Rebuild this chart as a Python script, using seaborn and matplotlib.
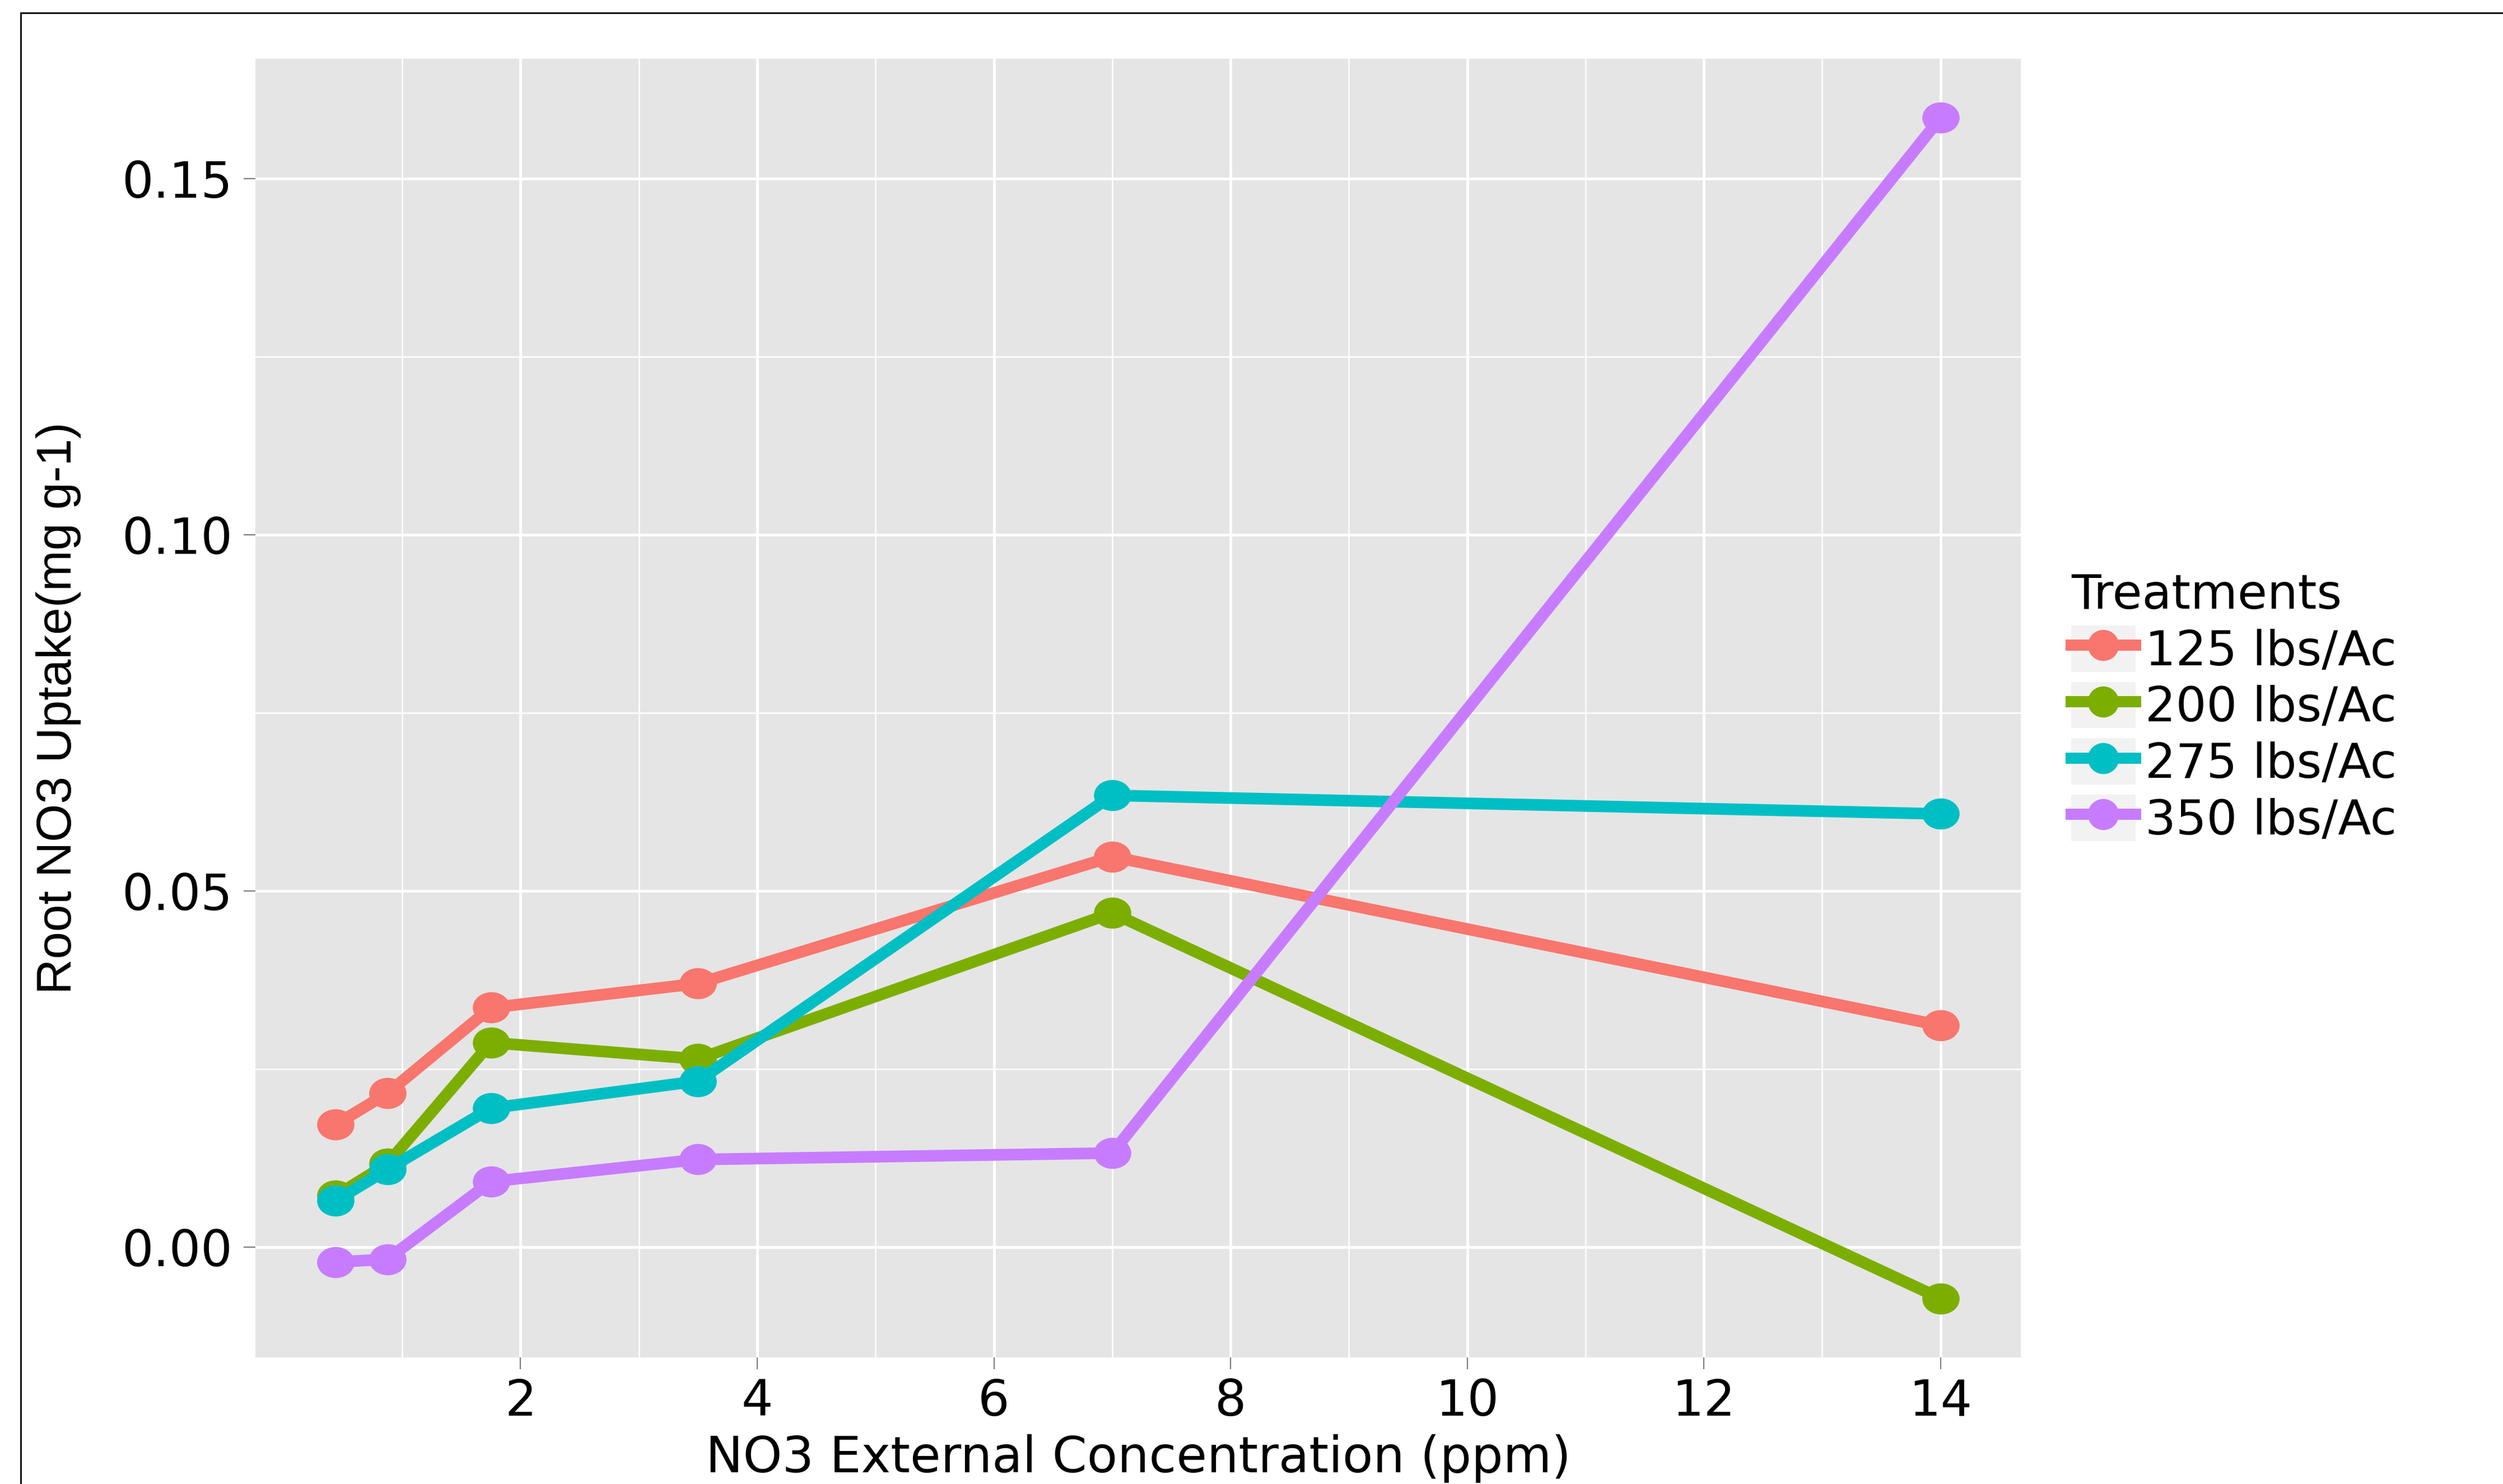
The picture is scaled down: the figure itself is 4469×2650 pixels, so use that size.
import numpy as np
import pandas as pd
import matplotlib
matplotlib.use("Agg")
import matplotlib.pyplot as plt
import seaborn as sns
from matplotlib.patches import Rectangle
from matplotlib.lines import Line2D
from matplotlib.path import Path
from matplotlib.transforms import Affine2D
from matplotlib.legend_handler import HandlerLine2D

# NO3 external concentration (ppm)
conc = [0.4375, 0.875, 1.75, 3.5, 7, 14]
treatments = ["125 lbs/Ac", "200 lbs/Ac", "275 lbs/Ac", "350 lbs/Ac"]
uptake_125 = [0.0172, 0.0216, 0.0336, 0.0370, 0.0548, 0.0311]
uptake_200 = [0.0072, 0.0117, 0.0287, 0.0264, 0.0469, -0.0072]
uptake_275 = [0.0065, 0.0109, 0.0195, 0.0233, 0.0634, 0.0608]
uptake_350 = [-0.0021, -0.0017, 0.0092, 0.0123, 0.0132, 0.1585]
colors = ["#F8766D", "#7CAE00", "#00BFC4", "#C77CFF"]

xticks = [2, 4, 6, 8, 10, 12, 14]
xminor = [1, 3, 5, 7, 9, 11, 13]
yticks = [0.00, 0.05, 0.10, 0.15]
ytick_labels = ["0.00", "0.05", "0.10", "0.15"]
yminor = [0.025, 0.075, 0.125]

df = pd.DataFrame({
    "conc": conc * 4,
    "uptake": uptake_125 + uptake_200 + uptake_275 + uptake_350,
    "Treatments": [t for t in treatments for _ in conc],
})


class KeyHandler(HandlerLine2D):
    # ggplot style grey key box behind the line + point
    def create_artists(self, legend, orig_handle, xdescent, ydescent,
                       width, height, fontsize, trans):
        bg = Rectangle((-xdescent, -ydescent), width, height,
                       facecolor="#F2F2F2", edgecolor="none", transform=trans)
        arts = super().create_artists(legend, orig_handle, xdescent, ydescent,
                                      width, height, fontsize, trans)
        return [bg] + arts


# the source image is a bit wider than tall, so points look like ovals
oval = Path.unit_circle().transformed(Affine2D().scale(1.2, 1.0))

W, H = 4469, 2650
fig = plt.figure(figsize=(W / 200, H / 200), dpi=200)
fig.patch.set_facecolor("white")
ax = fig.add_axes([456 / W, 1 - 2424 / H, (3608 - 456) / W, (2424 - 105) / H])
ax.set_facecolor("#E5E5E5")
for s in ax.spines.values():
    s.set_visible(False)

sns.lineplot(data=df, x="conc", y="uptake", hue="Treatments", palette=colors,
             marker=oval, markersize=24, markeredgewidth=0, linewidth=7.5,
             errorbar=None, ax=ax, zorder=3)

# ggplot default 5% expansion
xr = max(conc) - min(conc)
ax.set_xlim(min(conc) - 0.05 * xr, max(conc) + 0.05 * xr)
yall = df["uptake"]
yr = yall.max() - yall.min()
ax.set_ylim(yall.min() - 0.05 * yr, yall.max() + 0.05 * yr)

ax.set_xticks(xticks)
ax.set_xticklabels([str(t) for t in xticks])
ax.set_xticks(xminor, minor=True)
ax.set_yticks(yticks)
ax.set_yticklabels(ytick_labels)
ax.set_yticks(yminor, minor=True)
ax.grid(which="major", color="white", linewidth=1.8)
ax.grid(which="minor", color="white", linewidth=0.9)
ax.set_axisbelow(True)
ax.tick_params(which="major", length=7.5, width=0.8, color="#7F7F7F",
               labelsize=32, labelcolor="black")
ax.tick_params(axis="x", pad=5.4)
ax.tick_params(axis="y", pad=7.2)
ax.tick_params(which="minor", length=0)

ax.set_xlabel("NO3 External Concentration (ppm)", fontsize=32, labelpad=5)
ax.set_ylabel("Root NO3 Uptake(mg g-1)", fontsize=31.5, labelpad=26,
              family="Liberation Sans")

old = ax.get_legend()
handles = list(old.legend_handles)
labels = [t.get_text() for t in old.get_texts()]
for h in handles:
    h.set_linewidth(7.2)
    h.set_marker("o")
    h.set_markersize(20)
    h.set_markeredgewidth(0)
ax.legend(handles, labels, title="Treatments", loc="upper left",
          bbox_to_anchor=(3698 / W, 1 - 1022 / H), bbox_transform=fig.transFigure,
          frameon=False, borderpad=0, borderaxespad=0, fontsize=31,
          title_fontsize=31, handlelength=1.33, handleheight=1.1,
          handletextpad=0.2, labelspacing=0.14, alignment="left",
          handler_map={Line2D: KeyHandler()})

# outer border of the (cropped) figure
fig.patches.append(Rectangle((37 / W, -0.1), 1.2, 1 - 23 / H + 0.1,
                             transform=fig.transFigure, fill=False,
                             edgecolor="black", linewidth=1.0))

fig.savefig("out.png", dpi=200)
